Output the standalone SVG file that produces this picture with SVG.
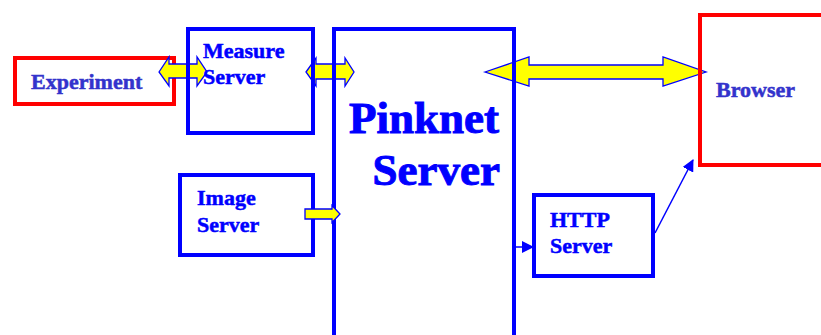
<svg xmlns="http://www.w3.org/2000/svg" width="821" height="335" viewBox="0 0 821 335">
<style>
.box{fill:none;stroke-width:4}
.blue{stroke:#0000ff}
.red{stroke:#ff0000}
.lbl{font-family:"Liberation Serif","Times New Roman",serif;font-weight:bold;font-size:22px;fill:#0000ff;stroke:#0000ff;stroke-width:0.5}
.lbl2{fill:#3333cc;stroke:#3333cc}
.big{font-size:45px;stroke-width:1}
.ya{fill:#ffff00;stroke:#0000ff;stroke-width:1.3;stroke-linejoin:miter}
.ln{stroke:#0000ff;stroke-width:1.5;fill:none}
</style>
<defs>
<marker id="ah" viewBox="0 0 12 12" refX="11" refY="6" markerWidth="12" markerHeight="12" markerUnits="userSpaceOnUse" orient="auto">
<path d="M0,0 L12,6 L0,12 Z" fill="#0000ff"/>
</marker>
</defs>
<rect width="821" height="335" fill="#ffffff"/>
<g id="experiment">
<rect class="box red" x="15" y="58" width="159" height="46"/>
<text class="lbl lbl2" x="31" y="89">Experiment</text>
</g>
<g id="connectors">
<polygon class="ya" points="159,72 169,57 169,64 197,64 197,57 207,72 197,86 197,78 169,78 169,86"/>
<polygon class="ya" points="306,72 316,58 316,64 345,64 345,58 354,72 345,86 345,79 316,79 316,86"/>
<polygon class="ya" points="485,72 529,57 529,65 663,65 663,57 706,72 663,86 663,79 529,79 529,86"/>
<line class="ln" x1="515" y1="247" x2="533" y2="247" marker-end="url(#ah)"/>
<line class="ln" x1="655" y1="233" x2="693" y2="160" marker-end="url(#ah)"/>
</g>
<g id="measure-server">
<rect class="box blue" x="188" y="29" width="125" height="104"/>
<text class="lbl" x="203" y="58">Measure</text>
<text class="lbl" x="203" y="84">Server</text>
</g>
<g id="pinknet-server">
<rect class="box blue" x="334" y="29" width="180" height="330"/>
<text class="lbl big" x="499" y="133" text-anchor="end">Pinknet</text>
<text class="lbl big" x="500" y="185" text-anchor="end">Server</text>
</g>
<g id="image-server">
<rect class="box blue" x="180" y="175" width="133" height="80"/>
<text class="lbl" x="197" y="205">Image</text>
<text class="lbl" x="197" y="232">Server</text>
</g>
<polygon class="ya" points="305,209 332,209 332,205.5 340,214 332,222.5 332,219 305,219"/>
<g id="http-server">
<rect class="box blue" x="534" y="195" width="119" height="81"/>
<text class="lbl" x="550" y="227">HTTP</text>
<text class="lbl" x="550" y="253">Server</text>
</g>
<g id="browser">
<rect class="box red" x="700" y="15" width="140" height="150"/>
<text class="lbl lbl2" x="716" y="97">Browser</text>
</g>
</svg>
